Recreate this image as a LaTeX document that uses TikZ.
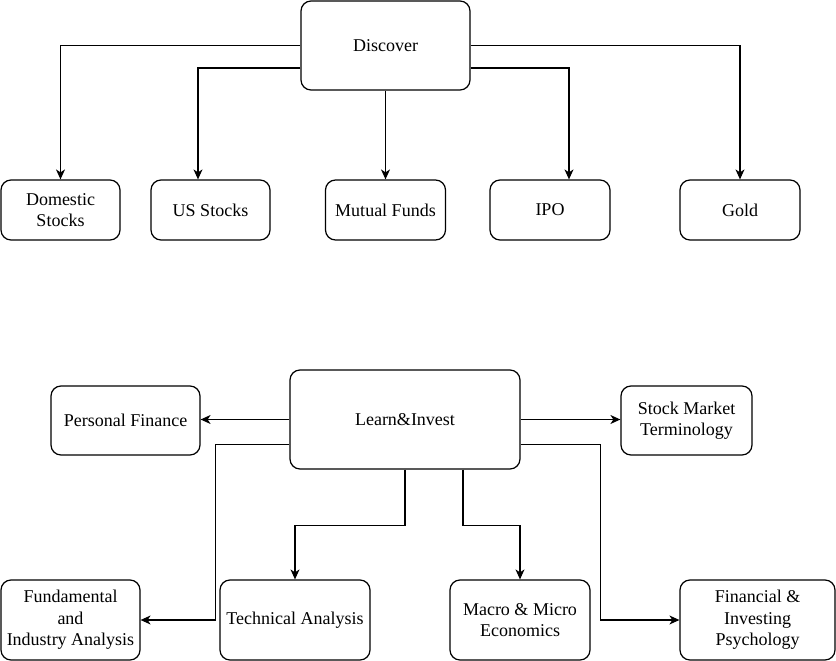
\documentclass[tikz,border=0pt]{standalone}
\usepackage{fontspec}
\setmainfont{Liberation Serif}
\usetikzlibrary{arrows.meta,calc}
\begin{document}
\begin{tikzpicture}[x=1pt,y=-1pt,
  box/.style={draw,line width=1.2pt,rounded corners=10pt,align=center,inner sep=0pt,
    font=\fontsize{18}{21.5}\selectfont},
  arr/.style={draw,line width=1.1pt,-{Stealth[length=10pt,width=9pt,inset=3pt]}}]
\useasboundingbox (0,0) rectangle (836,661);
% top tree
\node[box,minimum width=169pt,minimum height=89pt] (disc) at (385.5,45.5) {Discover};
\node[box,minimum width=119pt,minimum height=60pt] (dom) at (60.5,210) {Domestic\\Stocks};
\node[box,minimum width=119pt,minimum height=60pt] (us) at (210.5,210) {US Stocks};
\node[box,minimum width=120pt,minimum height=60pt] (mf) at (385.5,210) {Mutual Funds};
\node[box,minimum width=120pt,minimum height=60pt] (ipo) at (550,210) {IPO};
\node[box,minimum width=120pt,minimum height=60pt] (gold) at (740,210) {Gold};
\draw[arr] (disc.west) -| (dom.north);
\draw[arr] ([yshift=-22.5pt]disc.west) -| ([xshift=-12.5pt]us.north);
\draw[arr] (disc.south) -- (mf.north);
\draw[arr] ([yshift=-22.5pt]disc.east) -| ([xshift=19pt]ipo.north);
\draw[arr] (disc.east) -| (gold.north);
% bottom tree
\node[box,minimum width=230pt,minimum height=99pt] (learn) at (405,419.5) {Learn\&Invest};
\node[box,minimum width=149pt,minimum height=69pt] (pf) at (125.5,420.5) {Personal Finance};
\node[box,minimum width=131pt,minimum height=69pt] (smt) at (686.5,420.5) {Stock Market\\Terminology};
\node[box,minimum width=139pt,minimum height=80pt] (fund) at (70.5,620) {Fundamental\\and\\Industry Analysis};
\node[box,minimum width=150pt,minimum height=80pt] (tech) at (295,620) {Technical Analysis};
\node[box,minimum width=140pt,minimum height=80pt] (macro) at (520,620) {Macro \& Micro\\Economics};
\node[box,minimum width=155pt,minimum height=80pt] (fin) at (757.5,620) {Financial \&\\Investing\\Psychology};
\draw[arr] (learn.west) -- (learn.west -| pf.east);
\draw[arr] (learn.east) -- (learn.east -| smt.west);
\draw[arr] ([yshift=-25pt]learn.west) -- ++(-74,0) |- (fund.east);
\draw[arr] (learn.south) -- ++(0,56) -| (tech.north);
\draw[arr] ([xshift=58pt]learn.south) -- ++(0,56) -| (macro.north);
\draw[arr] ([yshift=-25pt]learn.east) -- ++(80,0) |- (fin.west);
\end{tikzpicture}
\end{document}
